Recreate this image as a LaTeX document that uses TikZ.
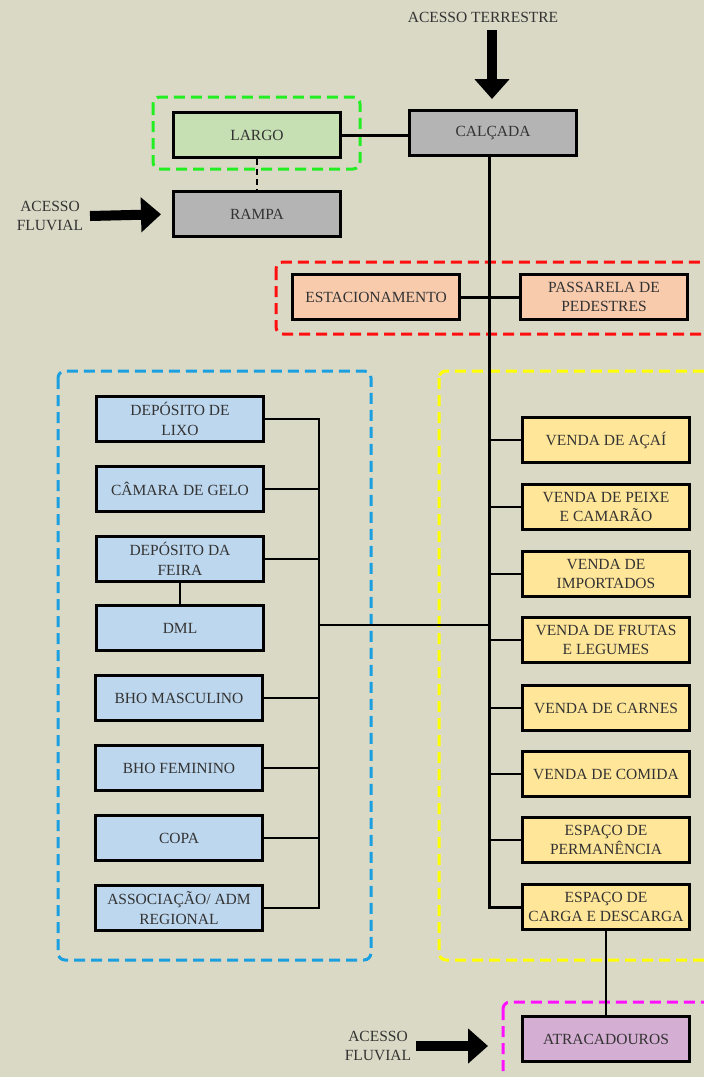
\documentclass[tikz,border=0pt]{standalone}
\usepackage{fontspec}
\setmainfont{Liberation Serif}
\newfontfamily\serf{Liberation Serif}
\usetikzlibrary{arrows.meta}
\definecolor{bg}{HTML}{DAD9C6}
\definecolor{txt}{HTML}{333333}
\definecolor{fgray}{HTML}{B4B4B4}
\definecolor{fgreen}{HTML}{C6E0B4}
\definecolor{fsalmon}{HTML}{F8CBAD}
\definecolor{fblue}{HTML}{BDD7EE}
\definecolor{fyellow}{HTML}{FFE699}
\definecolor{fpurple}{HTML}{D5AED3}
\definecolor{dgreen}{HTML}{22EE22}
\definecolor{dred}{HTML}{FF1010}
\definecolor{dblue}{HTML}{1A9FE0}
\definecolor{dyellow}{HTML}{FFFF00}
\definecolor{dmag}{HTML}{FF10FF}
\begin{document}
\begin{tikzpicture}[x=1pt,y=-1pt,
  box/.style={draw=black,line width=3pt,minimum width=167pt,minimum height=45pt,
    align=center,font=\serf\fontsize{15.5}{19.5}\selectfont,text=txt,inner sep=0pt},
  lbl/.style={align=center,font=\serf\fontsize{15.5}{19.5}\selectfont,text=txt,inner sep=0pt},
  grp/.style={line width=3pt,rounded corners=7pt,dash pattern=on 11pt off 6pt},
  bigarrow/.style={line width=10pt,-{Triangle[width=34pt,length=20pt]}},
  trunk/.style={line width=3pt},
  thin/.style={line width=2pt},
]
\fill[bg] (0,0) rectangle (704,1077);
\clip (0,0) rectangle (704,1077);

% group frames
\draw[grp,dgreen] (153,97) rectangle (360,169);
\draw[grp,dred] (276,262) rectangle (730,334);
\draw[grp,dblue] (58,371) rectangle (371,960);
\draw[grp,dyellow] (439,371) rectangle (730,960);
\draw[grp,dmag] (503,1002) rectangle (730,1100);

% top
\node[lbl] (terr) at (483,17) {ACESSO TERRESTRE};
\node[box,fill=fgray] (calcada) at (493,133) {CALÇADA};
\node[box,fill=fgreen] (largo) at (257,135) {LARGO};
\node[box,fill=fgray] (rampa) at (257,214) {RAMPA};
\node[lbl] (fluv1) at (50,216) {ACESSO\\FLUVIAL};

\node[box,fill=fsalmon] (est) at (376,297) {ESTACIONAMENTO};
\node[box,fill=fsalmon] (pass) at (604,297) {PASSARELA DE\\PEDESTRES};

% right column
\node[box,fill=fyellow] (acai) at (606,440) {VENDA DE AÇAÍ};
\node[box,fill=fyellow] (peixe) at (606,507) {VENDA DE PEIXE\\E CAMARÃO};
\node[box,fill=fyellow] (imp) at (606,574) {VENDA DE\\IMPORTADOS};
\node[box,fill=fyellow] (frutas) at (606,640) {VENDA DE FRUTAS\\E LEGUMES};
\node[box,fill=fyellow] (carnes) at (606,708) {VENDA DE CARNES};
\node[box,fill=fyellow] (comida) at (606,774) {VENDA DE COMIDA};
\node[box,fill=fyellow] (perm) at (606,840) {ESPAÇO DE\\PERMANÊNCIA};
\node[box,fill=fyellow] (carga) at (606,907) {ESPAÇO DE\\CARGA E DESCARGA};
\node[box,fill=fpurple] (atrac) at (606,1039) {ATRACADOUROS};
\node[lbl] (fluv2) at (378,1046) {ACESSO\\FLUVIAL};

% left column
\node[box,fill=fblue] (lixo) at (180,419) {DEPÓSITO DE\\LIXO};
\node[box,fill=fblue] (camara) at (180,489) {CÂMARA DE GELO};
\node[box,fill=fblue] (feira) at (180,559) {DEPÓSITO DA\\FEIRA};
\node[box,fill=fblue] (dml) at (180,628) {DML};
\node[box,fill=fblue] (bhom) at (179,698) {BHO MASCULINO};
\node[box,fill=fblue] (bhof) at (179,768) {BHO FEMININO};
\node[box,fill=fblue] (copa) at (179,838) {COPA};
\node[box,fill=fblue] (assoc) at (179,908) {ASSOCIAÇÃO/ ADM\\REGIONAL};

% coordinates
\coordinate (tr) at ([xshift=-4pt]calcada.south);
\coordinate (bus) at (319,625);
\coordinate (ta) at (492,30);
\coordinate (fa1) at (90,216);
\coordinate (fa2) at (416,1046);

% connectors
\draw[trunk] (largo.east) -- (largo.east -| calcada.west);
\draw[thin,dash pattern=on 6pt off 4pt] (largo.south) -- (rampa.north);
\draw[trunk] (tr) |- (carga.west);
\draw[trunk] (est.east) -- (pass.west);
\foreach \n in {acai,peixe,imp,frutas,carnes,comida,perm}
  \draw[thin] (\n.west) -- (\n.west -| tr);
\draw[thin] (lixo.east) -| (bus) |- (assoc.east);
\foreach \n in {camara,feira,bhom,bhof,copa}
  \draw[thin] (\n.east) -- (\n.east -| bus);
\draw[thin] (feira.south) -- (dml.north);
\draw[thin] (bus) -- (bus -| tr);
\draw[thin] (carga.south) -- (atrac.north);

% arrows
\draw[bigarrow,shorten >=10pt] (ta) -- (ta |- calcada.north);
\draw[bigarrow,shorten >=11pt] (fa1) -- (rampa.west);
\draw[bigarrow,shorten >=33pt] (fa2) -- (fa2 -| atrac.west);
\end{tikzpicture}
\end{document}
